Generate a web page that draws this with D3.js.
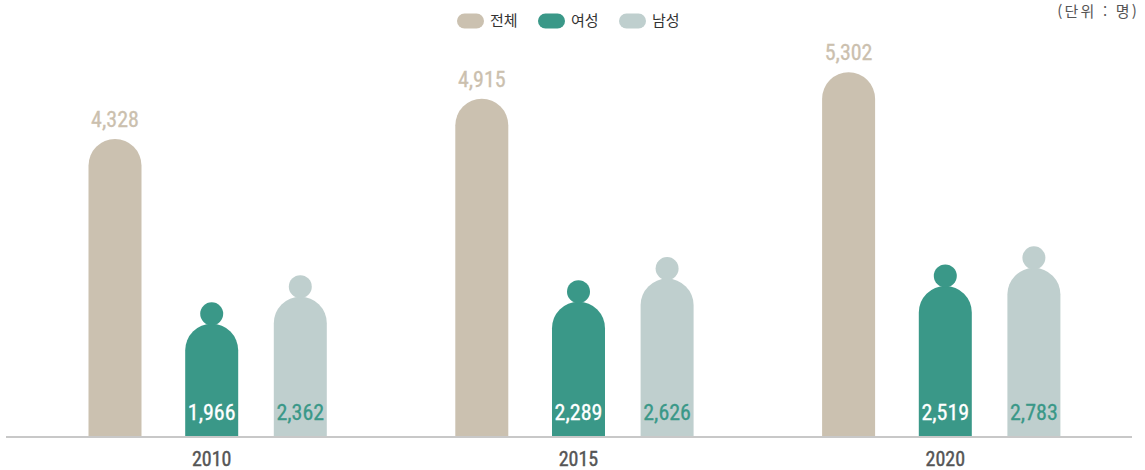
<!DOCTYPE html>
<html lang="ko">
  <head>
    <meta charset="UTF-8" />
    <title>연도별 인원</title>
    <style>
      html,
      body {
        margin: 0;
        background: #fff;
      }
      svg text {
        font-family: "Roboto Condensed", "Liberation Sans Narrow", Roboto, sans-serif;
      }
      .kr {
        font-family: "Noto Sans CJK KR", "Noto Sans", sans-serif !important;
      }
    </style>
    <script src="https://cdn.jsdelivr.net/npm/d3@7"></script>
  </head>

  <body>
    <script>
      // 캔버스 크기
      const width = 1145;
      const height = 470;

      // 데이터
      const years = ["2010", "2015", "2020"];
      const series = ["전체", "여성", "남성"];
      const total = [4328, 4915, 5302];
      const female = [1966, 2289, 2519];
      const male = [2362, 2626, 2783];
      const unitLabel = "(단위 : 명)";

      const colors = ["#cbc1b0", "#3a9888", "#bfcfce"];
      const valueColors = ["#cbc0ae", "#ffffff", "#3a9888"];

      const rows = [];
      years.forEach((y, i) => {
        [total, female, male].forEach((arr, j) => {
          rows.push({ year: y, key: series[j], value: arr[i] });
        });
      });

      const svg = d3
        .select("body")
        .append("svg")
        .attr("width", width)
        .attr("height", height);

      const baseY = 437;

      // 스케일
      const x0 = d3.scaleBand().domain(years).range([28.3, 1128.7]);
      const x1 = d3.scaleOrdinal().domain(series).range([-96.7, 0, 88.6]);
      const y = d3.scaleLinear().domain([0, 6000]).range([435.5, 24.5]);
      const color = d3.scaleOrdinal().domain(series).range(colors);
      const valueColor = d3.scaleOrdinal().domain(series).range(valueColors);

      const barW = 53;
      const headR = 11.5;
      const cx = (d) => x0(d.year) + x0.bandwidth() / 2 + x1(d.key);

      // 윗부분이 둥근 막대
      function dome(x, top, bottom, w) {
        const r = w / 2;
        return `M${x},${bottom}V${top + r}A${r},${r} 0 0 1 ${x + w},${top + r}V${bottom}Z`;
      }

      const bars = svg
        .append("g")
        .selectAll("g")
        .data(rows)
        .join("g");

      bars
        .append("path")
        .attr("fill", (d) => color(d.key))
        .attr("d", (d) => {
          const top = d.key === "전체" ? y(d.value) : y(d.value) + headR * 2;
          return dome(cx(d) - barW / 2, top, baseY, barW);
        });

      // 사람 머리
      bars
        .filter((d) => d.key !== "전체")
        .append("circle")
        .attr("cx", (d) => cx(d))
        .attr("cy", (d) => y(d.value) + headR + 1.5)
        .attr("r", headR)
        .attr("fill", (d) => color(d.key));

      // 값 라벨
      bars
        .append("text")
        .attr("x", (d) => cx(d))
        .attr("y", (d) => (d.key === "전체" ? y(d.value) - 12 : 420))
        .attr("text-anchor", "middle")
        .attr("font-size", 22)
        .attr("font-weight", 400)
        .attr("fill", (d) => valueColor(d.key))
        .attr("stroke", (d) => valueColor(d.key))
        .attr("stroke-width", 0.3)
        .text((d) => d3.format(",")(d.value));

      // x축
      const xAxis = d3.axisBottom(x0).tickSize(0).tickPadding(15);
      const gx = svg
        .append("g")
        .attr("transform", `translate(0,${baseY})`)
        .call(xAxis);
      gx.select(".domain").remove();
      gx.selectAll("text")
        .attr("font-size", 20)
        .attr("font-weight", 400)
        .attr("fill", "#555")
        .attr("stroke", "#555")
        .attr("stroke-width", 0.4);

      svg
        .append("line")
        .attr("x1", 6)
        .attr("x2", 1132)
        .attr("y1", baseY)
        .attr("y2", baseY)
        .attr("stroke", "#c8c8c8")
        .attr("stroke-width", 2);

      // 범례
      const legend = svg
        .append("g")
        .attr("transform", "translate(457,21)")
        .selectAll("g")
        .data(series)
        .join("g")
        .attr("transform", (d, i) => `translate(${i * 81},0)`);

      legend
        .append("rect")
        .attr("x", 0)
        .attr("y", -7.5)
        .attr("width", 27)
        .attr("height", 15)
        .attr("rx", 7.5)
        .attr("fill", (d) => color(d));

      legend
        .append("text")
        .attr("class", "kr")
        .attr("x", 33)
        .attr("y", 0)
        .attr("dy", "0.35em")
        .attr("font-size", 15)
        .attr("fill", "#333")
        .text((d) => d);

      // 단위
      svg
        .append("text")
        .attr("class", "kr")
        .attr("x", 1139)
        .attr("y", 12)
        .attr("dy", "0.35em")
        .attr("text-anchor", "end")
        .attr("font-size", 15)
        .attr("letter-spacing", 2.2)
        .attr("fill", "#555")
        .text(unitLabel);
    </script>
  </body>
</html>
